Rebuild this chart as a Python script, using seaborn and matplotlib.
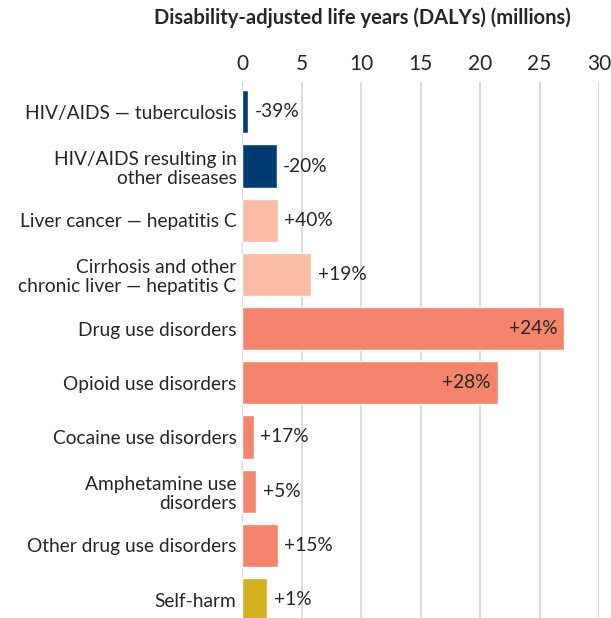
import numpy as np
import pandas as pd
import matplotlib
matplotlib.use("Agg")
import matplotlib.pyplot as plt
import seaborn as sns

causes = [
    "HIV/AIDS — tuberculosis",
    "HIV/AIDS resulting in\nother diseases",
    "Liver cancer — hepatitis C",
    "Cirrhosis and other\nchronic liver — hepatitis C",
    "Drug use disorders",
    "Opioid use disorders",
    "Cocaine use disorders",
    "Amphetamine use\ndisorders",
    "Other drug use disorders",
    "Self-harm",
]
dalys = [0.5, 2.9, 3.0, 5.8, 27.1, 21.5, 1.0, 1.2, 3.0, 2.1]
changes = ["-39%", "-20%", "+40%", "+19%", "+24%", "+28%", "+17%", "+5%", "+15%", "+1%"]
colors = ["#003B71", "#003B71", "#F9BDA5", "#F9BDA5", "#F4846B",
          "#F4846B", "#F4846B", "#F4846B", "#F4846B", "#D4B11E"]

df = pd.DataFrame({"cause": causes, "dalys": dalys})

sns.set_style("white")
plt.rcParams["font.family"] = ["Lato", "DejaVu Sans"]

fig = plt.figure(figsize=(6.11, 6.18), dpi=100)
ax = fig.add_axes([242 / 611, 0, (599 - 242) / 611, 1 - 82 / 618])

sns.barplot(data=df, x="dalys", y="cause", hue="cause", palette=colors,
            legend=False, width=0.8, ax=ax, saturation=1)

ax.set_xlim(0, 30)
ax.set_ylim(9.34, -0.55)
ax.set_xticks(range(0, 31, 5))
ax.xaxis.tick_top()
ax.xaxis.set_label_position("top")
ax.set_xlabel("")
ax.set_ylabel("")
ax.grid(axis="x", color="#d9d9d9", linewidth=1.3)
ax.set_axisbelow(True)
for s in ax.spines.values():
    s.set_visible(False)
ax.tick_params(axis="both", length=0, colors="#262626")
ax.tick_params(axis="x", labelsize=15, pad=6)
ax.tick_params(axis="y", labelsize=13.8, pad=4)
for lab in ax.get_yticklabels():
    lab.set_linespacing(1.15)

for i, (v, t) in enumerate(zip(dalys, changes)):
    if v > 15:
        ax.text(v - 0.6, i, t, ha="right", va="center", fontsize=13.8, color="#262626")
    else:
        ax.text(v + 0.55, i, t, ha="left", va="center", fontsize=13.8, color="#262626")

fig.text(362 / 611, 1 - 18 / 618, "Disability-adjusted life years (DALYs) (millions)",
         ha="center", va="center", fontsize=14.5, fontweight="bold", color="#262626")

fig.savefig("out.png", dpi=100)
